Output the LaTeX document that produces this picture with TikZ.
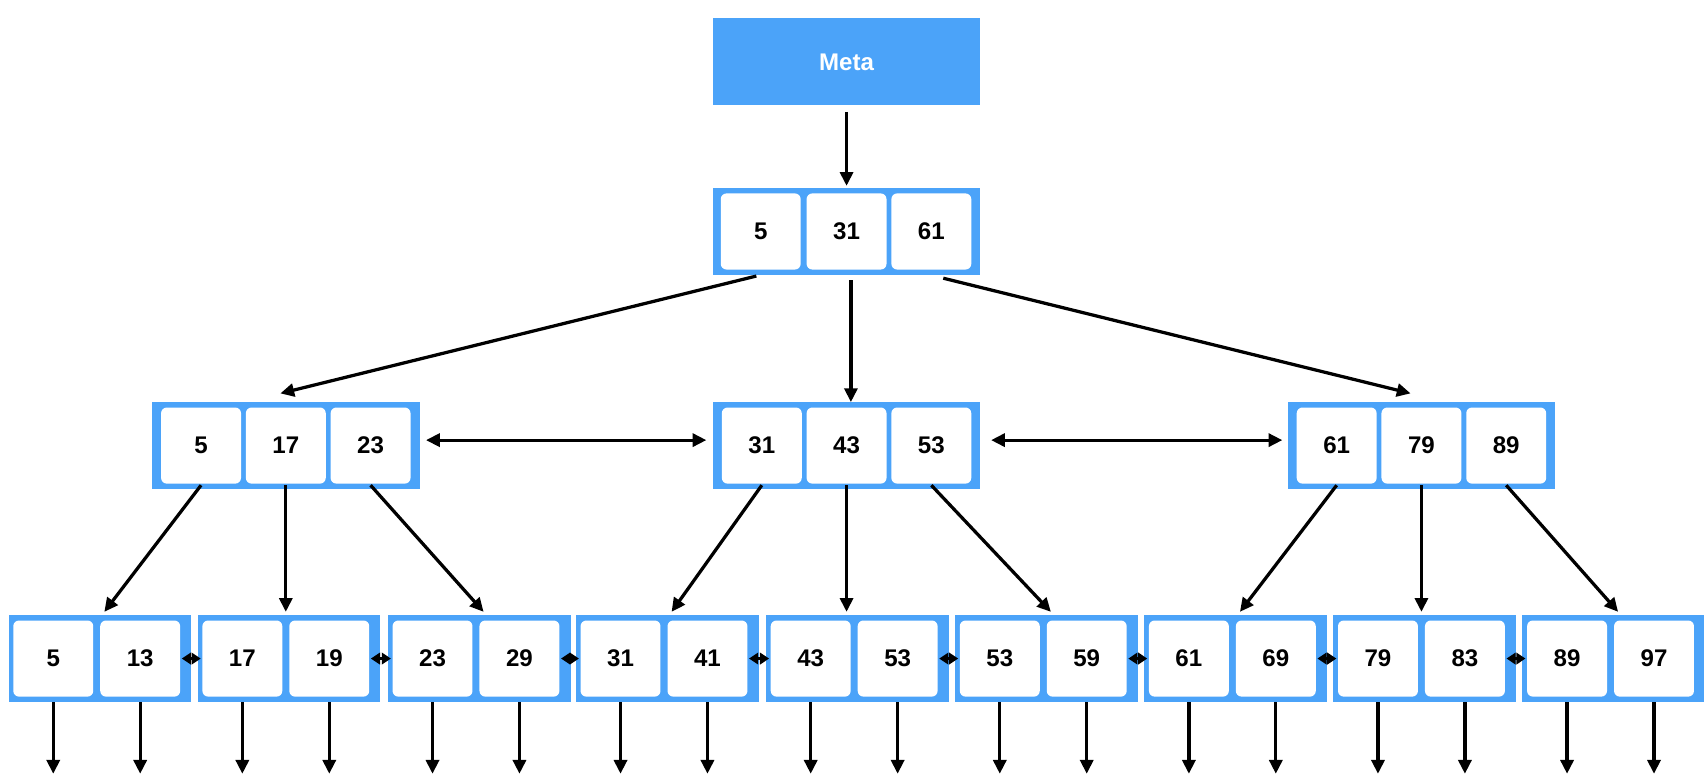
\documentclass[tikz,border=0pt]{standalone}
\usepackage{fontspec}
\setmainfont{Liberation Sans}
\usetikzlibrary{positioning,arrows.meta}
\definecolor{nodeblue}{HTML}{4BA3F9}

\begin{document}
\begin{tikzpicture}[x=0.01cm,y=-0.01cm,line width=0.85pt,
  font=\fontsize{6.3}{7}\selectfont\bfseries,
  arr/.style={-{Triangle[length=3.6pt,width=3.4pt]}},
  darr/.style={{Triangle[length=3.6pt,width=3.4pt]}-{Triangle[length=3.6pt,width=3.4pt]}},
  sarr/.style={{Triangle[length=2.4pt,width=3pt]}-{Triangle[length=2.4pt,width=3pt]}}]
  \tikzstyle{frame}=[rectangle,fill=nodeblue,draw=none,inner sep=0pt,minimum height=0.8cm]
  \tikzstyle{key}=[rectangle,rounded corners=1.5pt,fill=white,draw=none,inner sep=0pt,minimum width=0.735cm,minimum height=0.7cm]
  \useasboundingbox (0,0) rectangle (1568,721);

  % meta and root
  \node[frame,minimum width=2.46cm,text=white] (meta) at (779,57) {Meta};
  \node[frame,minimum width=2.46cm] (root) at (779,213) {};
  \node[key] (r_1) at (700,213) {5};
  \node[key] (r_2) at (779,213) {31};
  \node[key] (r_3) at (857,213) {61};

  % middle level
  \foreach \n/\x/\a/\b/\c in {m_1/263/5/17/23, m_2/779/31/43/53, m_3/1308/61/79/89} {
    \node[frame,minimum width=2.46cm] (\n) at (\x,410) {};
    \node[key] (\n_1) at (\x-78,410) {\a};
    \node[key] (\n_2) at (\x,410) {\b};
    \node[key] (\n_3) at (\x+78,410) {\c};
  }

  % leaves
  \foreach \i/\s/\a/\b in {1/8/5/13, 2/182/17/19, 3/357/23/29, 4/530/31/41, 5/705/43/53,
                           6/879/53/59, 7/1053/61/69, 8/1227/79/83, 9/1401/89/97} {
    \node[frame,minimum width=1.68cm] (l_\i) at (\s+84,606) {};
    \node[key] (l_\i_1) at (\s+41,606) {\a};
    \node[key] (l_\i_2) at (\s+121,606) {\b};
    \coordinate (t_\i) at (\s+88,563);
    \coordinate (d_\i_1) at (\s+41,712);
    \coordinate (d_\i_2) at (\s+121,712);
    \draw[arr] (\s+41,646) -- (d_\i_1);
    \draw[arr] (\s+121,646) -- (d_\i_2);
  }

  \coordinate (a_1) at (696,254);
  \coordinate (a_2) at (783,258);
  \coordinate (a_3) at (868,256);
  \coordinate (b_1) at (258,362);
  \coordinate (b_2) at (783,370);
  \coordinate (b_3) at (1298,362);

  \draw[arr] (779,103) -- (779,171);
  \draw[arr] (a_1) -- (b_1);
  \draw[arr] (a_2) -- (b_2);
  \draw[arr] (a_3) -- (b_3);

  \draw[darr] (392,405) -- (650,405);
  \draw[darr] (912,405) -- (1180,405);

  \foreach \m/\a/\b/\c in {1/1/2/3, 2/4/5/6, 3/7/8/9} {
    \draw[arr] (m_\m_1.south) -- (t_\a);
    \draw[arr] (m_\m_2.south) -- (m_\m_2.south |- t_\b);
    \draw[arr] (m_\m_3.south) -- (t_\c);
  }

  \foreach \i/\j in {1/2,2/3,3/4,4/5,5/6,6/7,7/8,8/9}
    \draw[sarr] (l_\i_2.east) -- (l_\j_1.west);
\end{tikzpicture}
\end{document}
